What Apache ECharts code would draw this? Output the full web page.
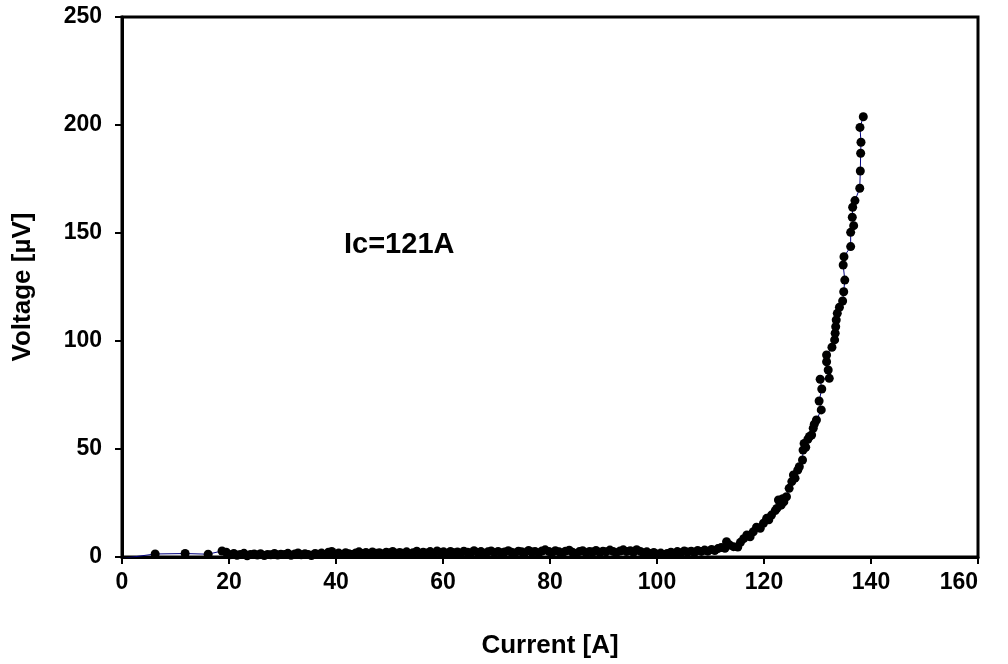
<!DOCTYPE html>
<html>
<head>
<meta charset="utf-8">
<script src="https://cdn.jsdelivr.net/npm/echarts@6/dist/echarts.min.js"></script>
<style>
  html, body { margin: 0; padding: 0; background: #ffffff; }
  #chart { width: 1008px; height: 664px; }
</style>
</head>
<body>
<div id="chart"></div>
<script>
// V–I transition measurement: [current in A, voltage in µV]
const sparseStart = [
  [0.3, -0.6], [6.2, 1.4], [11.8, 1.6], [16.1, 1.3], [18.7, 2.8]
];

const plateauLow = [
  [19.5, 2.2], [20.2, 1.0], [20.9, 1.6], [21.5, 0.8], [22.1, 1.2], [22.8, 1.7],
  [23.4, 0.6], [24.0, 1.1], [24.7, 1.4], [25.3, 0.9], [25.9, 1.5], [26.6, 0.7],
  [27.2, 1.2], [27.8, 1.0], [28.5, 1.6], [29.1, 0.9], [29.7, 1.3], [30.4, 1.1],
  [31.0, 1.7], [31.6, 0.8], [32.3, 1.4], [32.9, 1.9], [33.5, 1.0], [34.2, 1.5],
  [34.8, 1.2], [35.4, 0.7], [36.1, 1.6], [36.7, 1.3], [37.3, 1.8], [38.0, 1.1],
  [38.6, 2.2], [39.2, 2.6], [39.9, 1.4]
];

const plateauMid = [
  [40.5, 1.8], [41.1, 1.2], [41.8, 2.0], [42.4, 1.5], [43.0, 1.1], [43.7, 1.9],
  [44.3, 2.4], [44.9, 1.6], [45.6, 2.1], [46.2, 1.3], [46.8, 2.3], [47.5, 1.7],
  [48.1, 2.0], [48.7, 1.4], [49.4, 2.2], [50.0, 1.8], [50.6, 2.6], [51.3, 1.5],
  [51.9, 2.1], [52.5, 1.7], [53.2, 2.4], [53.8, 1.3], [54.4, 2.0], [55.1, 2.7],
  [55.7, 1.6], [56.3, 2.2], [57.0, 1.9], [57.6, 2.5], [58.2, 1.5], [58.9, 2.8],
  [59.5, 2.1], [60.1, 2.4], [60.8, 1.7], [61.4, 2.6], [62.0, 2.0], [62.7, 2.3],
  [63.3, 1.6], [63.9, 2.7], [64.6, 2.2], [65.2, 1.8], [65.8, 2.9], [66.5, 2.1],
  [67.1, 2.5], [67.7, 1.7], [68.4, 2.4], [69.0, 2.8], [69.6, 2.0], [70.3, 2.6],
  [70.9, 1.9], [71.5, 2.3], [72.2, 2.9], [72.8, 2.2], [73.4, 1.8], [74.1, 2.7],
  [74.7, 2.4], [75.3, 2.0], [76.0, 3.0], [76.6, 2.3], [77.2, 2.6], [77.9, 1.9],
  [78.5, 2.8], [79.1, 3.3], [79.8, 2.5]
];

const plateauHigh = [
  [80.4, 2.1], [81.0, 2.9], [81.7, 2.4], [82.3, 1.8], [82.9, 2.7], [83.6, 3.1],
  [84.2, 2.2], [84.8, 1.6], [85.5, 2.5], [86.1, 2.9], [86.7, 2.0], [87.4, 2.6],
  [88.0, 2.3], [88.6, 3.0], [89.3, 2.1], [89.9, 2.7], [90.5, 2.4], [91.2, 3.2],
  [91.8, 2.6], [92.4, 2.0], [93.1, 2.8], [93.7, 3.3], [94.3, 2.5], [95.0, 2.9],
  [95.6, 2.2], [96.2, 3.4], [96.9, 2.6], [97.5, 1.9], [98.1, 2.4], [98.8, 1.6],
  [99.4, 2.1], [100.0, 1.3], [100.7, 1.8], [101.3, 1.1], [101.9, 1.6], [102.6, 2.2],
  [103.2, 1.7], [103.8, 2.5], [104.5, 2.0], [105.1, 2.8], [105.7, 2.3], [106.4, 2.7],
  [107.0, 2.1], [107.6, 3.0], [108.3, 2.6], [108.9, 3.2], [109.5, 2.7], [110.2, 3.5],
  [110.8, 3.0], [111.4, 3.9], [112.0, 4.4]
];

const transition = [
  [112.7, 4.0], [113.0, 7.1], [113.6, 5.5], [114.3, 4.8], [115.1, 4.6], [115.6, 6.8],
  [116.2, 8.5], [116.8, 10.2], [117.4, 9.4], [118.0, 11.7], [118.6, 13.8], [119.3, 13.3],
  [119.9, 15.6], [120.5, 17.9], [120.9, 17.2], [121.4, 19.4], [122.1, 21.5], [122.4, 22.5],
  [122.7, 26.4], [123.2, 24.0], [123.5, 27.0], [123.7, 25.5], [124.2, 27.9], [124.7, 31.8],
  [125.2, 34.9], [125.5, 38.0], [125.8, 36.5], [126.3, 40.2], [126.6, 41.8], [127.2, 44.9],
  [127.3, 49.5], [127.5, 52.6], [127.8, 50.8], [128.2, 54.5], [128.5, 55.8], [128.9, 56.5],
  [129.2, 59.6], [129.4, 61.5], [129.8, 63.4], [130.7, 68.1], [130.3, 72.2], [130.8, 77.8],
  [130.5, 82.3], [132.2, 82.7], [132.0, 86.6], [131.7, 90.4], [131.7, 93.5], [132.7, 97.1],
  [133.2, 100.5], [133.3, 103.6], [133.4, 106.6], [133.5, 109.7], [133.7, 112.8], [134.1, 115.6],
  [134.7, 118.5], [134.9, 122.8], [135.1, 128.2], [134.8, 135.2], [134.95, 139.0], [136.2, 143.7],
  [136.2, 150.3], [136.76, 153.4], [136.5, 157.3], [136.57, 161.9], [137.0, 165.0], [137.9, 170.7],
  [138.0, 178.7], [138.07, 186.9], [138.13, 192.0], [137.94, 198.9], [138.56, 203.8]
];

const currentTicks = [0, 20, 40, 60, 80, 100, 120, 140, 160];
const voltageTicks = [0, 50, 100, 150, 200, 250];
const criticalCurrentLabel = 'Ic=121A';

const measurement = [].concat(sparseStart, plateauLow, plateauMid, plateauHigh, transition);

const FONT = '"Liberation Sans", Arial, Helvetica, sans-serif';
const chart = echarts.init(document.getElementById('chart'), null, { renderer: 'canvas' });

chart.setOption({
  backgroundColor: '#ffffff',
  animation: false,
  grid: {
    left: 122, right: 30, top: 17, bottom: 107,
    show: true, borderColor: '#000', borderWidth: 3, backgroundColor: 'transparent'
  },
  xAxis: {
    type: 'value',
    min: currentTicks[0],
    max: currentTicks[currentTicks.length - 1],
    interval: currentTicks[1] - currentTicks[0],
    name: 'Current [A]',
    nameLocation: 'middle',
    nameGap: 76,
    nameTextStyle: { fontFamily: FONT, fontWeight: 'bold', fontSize: 26, color: '#000' },
    axisLine: { show: true, onZero: false, lineStyle: { color: '#000', width: 3 } },
    axisTick: { show: true, inside: false, length: 7, lineStyle: { color: '#000', width: 2 } },
    axisLabel: {
      fontFamily: FONT, fontWeight: 'bold', fontSize: 23, color: '#000', margin: 14,
      alignMaxLabel: 'right'
    },
    splitLine: { show: false }
  },
  yAxis: {
    type: 'value',
    min: voltageTicks[0],
    max: voltageTicks[voltageTicks.length - 1],
    interval: voltageTicks[1] - voltageTicks[0],
    name: 'Voltage [µV]',
    nameLocation: 'middle',
    nameGap: 86,
    nameRotate: 90,
    nameTextStyle: { fontFamily: FONT, fontWeight: 'bold', fontSize: 26, color: '#000' },
    axisLine: { show: true, onZero: false, lineStyle: { color: '#000', width: 3 } },
    axisTick: { show: true, inside: false, length: 7, lineStyle: { color: '#000', width: 2 } },
    axisLabel: { fontFamily: FONT, fontWeight: 'bold', fontSize: 23, color: '#000', margin: 20 },
    splitLine: { show: false }
  },
  series: [{
    type: 'line',
    data: measurement,
    clip: true,
    symbol: 'circle',
    symbolSize: 9,
    showAllSymbol: true,
    itemStyle: { color: '#000' },
    lineStyle: { color: '#000080', width: 1 },
    z: 3
  }],
  graphic: [{
    type: 'text',
    left: 344,
    top: 230,
    style: {
      text: criticalCurrentLabel,
      fontFamily: FONT, fontWeight: 'bold', fontSize: 29, fill: '#000'
    }
  }]
});
</script>
</body>
</html>
